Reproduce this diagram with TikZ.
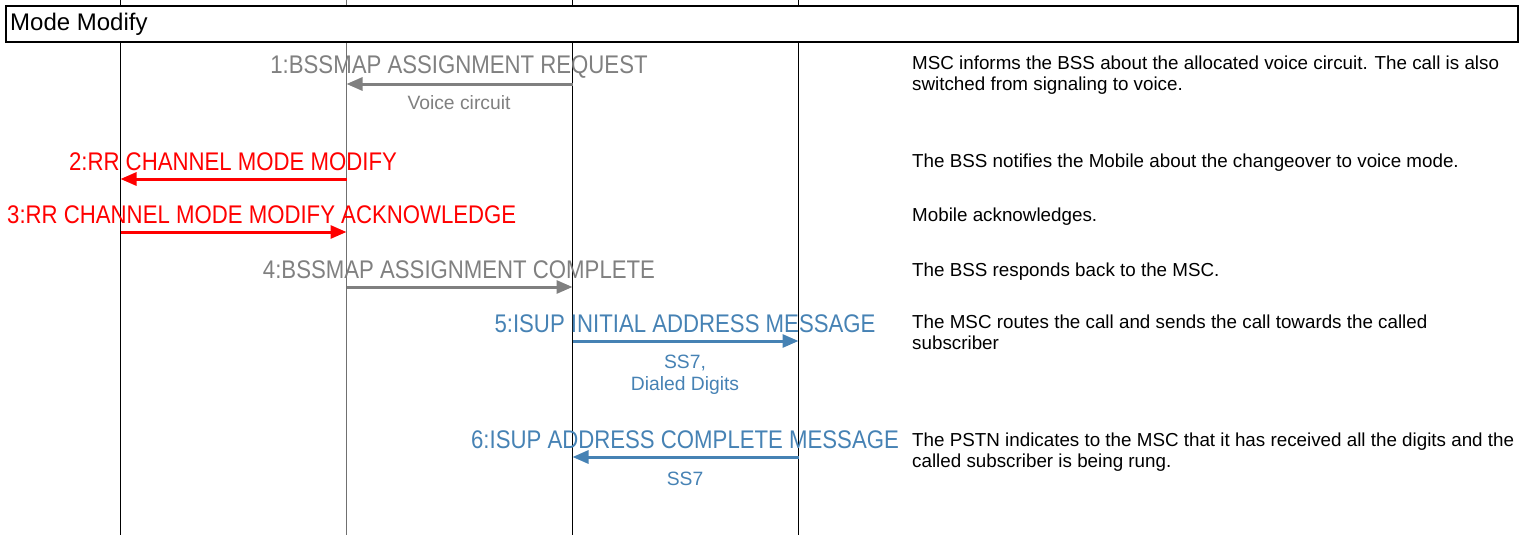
\documentclass[tikz,border=0pt]{standalone}
\usepackage{fontspec}
\setmainfont{Liberation Sans}
\newfontfamily\msgfont{Liberation Sans}[FakeStretch=0.87]
\usetikzlibrary{arrows.meta}
\definecolor{msggray}{HTML}{808080}
\definecolor{linegray}{HTML}{707070}
\definecolor{msgblue}{HTML}{4682B4}
\definecolor{msgred}{HTML}{FF0000}

\begin{document}
\begin{tikzpicture}[x=1pt,y=-1pt,
  lifeline/.style={line width=1pt, draw=black},
  msg/.style={line width=3pt, -{Triangle[length=16pt,width=13pt]}},
  msglabel/.style={anchor=base, inner sep=0pt, font=\msgfont\fontsize{25.5}{30}\selectfont},
  sublabel/.style={anchor=base, inner sep=0pt, align=center, font=\fontsize{19.3}{22}\selectfont},
  note/.style={anchor=base west, inner sep=0pt, align=left, font=\fontsize{18.8}{21}\selectfont},
  framebox/.style={draw=black, line width=2.2pt, fill=white},
]
\useasboundingbox (0,0) rectangle (1523,535);

% lifelines: mobile, BSS, MSC, PSTN (on pixel centres)
\coordinate (msTop) at (120.5,0);   \coordinate (msBot) at (120.5,535);
\coordinate (bssTop) at (346.5,0);  \coordinate (bssBot) at (346.5,535);
\coordinate (mscTop) at (572.5,0);  \coordinate (mscBot) at (572.5,535);
\coordinate (pstnTop) at (798.5,0); \coordinate (pstnBot) at (798.5,535);
\draw[lifeline] (msTop) -- (msBot);
\draw[lifeline, draw=linegray] (bssTop) -- (bssBot);
\draw[lifeline] (mscTop) -- (mscBot);
\draw[lifeline] (pstnTop) -- (pstnBot);

% section frame
\node[framebox, minimum width=1512pt, minimum height=36pt, anchor=north west, inner sep=0pt] (frame) at (5,5) {};
\node[anchor=base west, inner sep=0pt, font=\fontsize{24}{28}\selectfont] (title) at (10,31) {Mode Modify};

% 1: BSSMAP assignment request
\coordinate (m1a) at (572.5,84); \coordinate (m1b) at (346.5,84);
\node[msglabel, text=msggray] (l1) at (459,74) {1:BSSMAP ASSIGNMENT REQUEST};
\draw[msg, msggray] (m1a) -- (m1b);
\node[sublabel, text=msggray] (s1) at (459,110) {Voice circuit};
\node[note] (n1) at (912,91) {MSC informs the BSS about the allocated voice circuit. The call is also\\switched from signaling to voice.};

% 2: RR channel mode modify
\coordinate (m2a) at (346.5,179); \coordinate (m2b) at (120.5,179);
\node[msglabel, text=msgred] (l2) at (233,170) {2:RR CHANNEL MODE MODIFY};
\draw[msg, msgred] (m2a) -- (m2b);
\node[note] (n2) at (912,167) {The BSS notifies the Mobile about the changeover to voice mode.};

% 3: RR channel mode modify acknowledge
\coordinate (m3a) at (120.5,232); \coordinate (m3b) at (346.5,232);
\node[msglabel, anchor=base west, text=msgred] (l3) at (7,223) {3:RR CHANNEL MODE MODIFY ACKNOWLEDGE};
\draw[msg, msgred] (m3a) -- (m3b);
\node[note] (n3) at (912,221) {Mobile acknowledges.};

% 4: BSSMAP assignment complete
\coordinate (m4a) at (346.5,287); \coordinate (m4b) at (572.5,287);
\node[msglabel, text=msggray] (l4) at (459,278) {4:BSSMAP ASSIGNMENT COMPLETE};
\draw[msg, msggray] (m4a) -- (m4b);
\node[note] (n4) at (912,276) {The BSS responds back to the MSC.};

% 5: ISUP initial address message
\coordinate (m5a) at (572.5,341); \coordinate (m5b) at (798.5,341);
\node[msglabel, text=msgblue] (l5) at (685,332) {5:ISUP INITIAL ADDRESS MESSAGE};
\draw[msg, msgblue] (m5a) -- (m5b);
\node[sublabel, text=msgblue] (s5) at (685,390) {SS7,\\Dialed Digits};
\node[note] (n5) at (912,349) {The MSC routes the call and sends the call towards the called\\subscriber};

% 6: ISUP address complete message
\coordinate (m6a) at (798.5,457); \coordinate (m6b) at (572.5,457);
\node[msglabel, text=msgblue] (l6) at (685,448) {6:ISUP ADDRESS COMPLETE MESSAGE};
\draw[msg, msgblue] (m6a) -- (m6b);
\node[sublabel, text=msgblue] (s6) at (685,485) {SS7};
\node[note] (n6) at (912,467) {The PSTN indicates to the MSC that it has received all the digits and the\\called subscriber is being rung.};
\end{tikzpicture}
\end{document}
